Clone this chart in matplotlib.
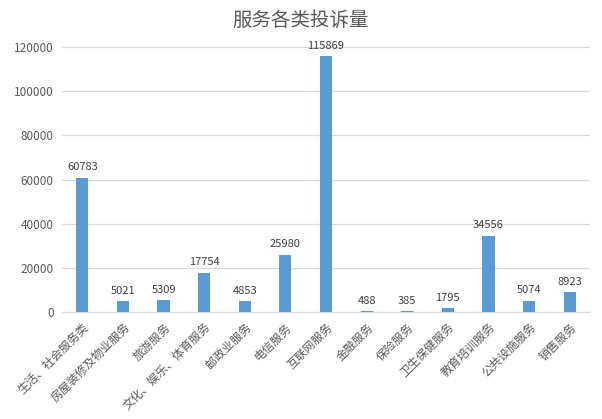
import matplotlib
matplotlib.use("Agg")
import matplotlib.pyplot as plt
import numpy as np

plt.rcParams['font.family'] = ['Noto Sans CJK SC', 'DejaVu Sans']

categories = ["生活、社会服务类", "房屋装修及物业服务", "旅游服务", "文化、娱乐、体育服务",
              "邮政业服务", "电信服务", "互联网服务", "金融服务", "保险服务",
              "卫生保健服务", "教育培训服务", "公共设施服务", "销售服务"]
values = [60783, 5021, 5309, 17754, 4853, 25980, 115869, 488, 385, 1795, 34556, 5074, 8923]
yticks = [0, 20000, 40000, 60000, 80000, 100000, 120000]

fig = plt.figure(figsize=(6.02, 4.19), dpi=100)
ax = fig.add_axes([0.103, 0.255, 0.877, 0.633])

x = np.arange(len(categories))
ax.bar(x, values, width=0.3, color='#5B9BD5', zorder=3)
for xi, v in zip(x, values):
    ax.text(xi, v + 2500, str(v), ha='center', va='bottom', fontsize=8, color='#404040')

ax.set_xlim(-0.5, len(categories) - 0.5)
ax.set_ylim(0, 120000)
ax.set_yticks(yticks)
ax.set_yticklabels([str(t) for t in yticks], fontsize=8.5, color='#595959')
ax.set_xticks(x)
ax.set_xticklabels(categories, rotation=45, ha='right', rotation_mode='anchor',
                   fontsize=8.5, color='#595959')
ax.tick_params(axis='both', length=0, pad=6)
ax.grid(axis='y', color='#D9D9D9', linewidth=0.9, zorder=0)
for s in ['top', 'right', 'left']:
    ax.spines[s].set_visible(False)
ax.spines['bottom'].set_color('#D9D9D9')

fig.suptitle("服务各类投诉量", y=0.975, fontsize=14, color='#595959')
fig.savefig("out.png", dpi=100)
